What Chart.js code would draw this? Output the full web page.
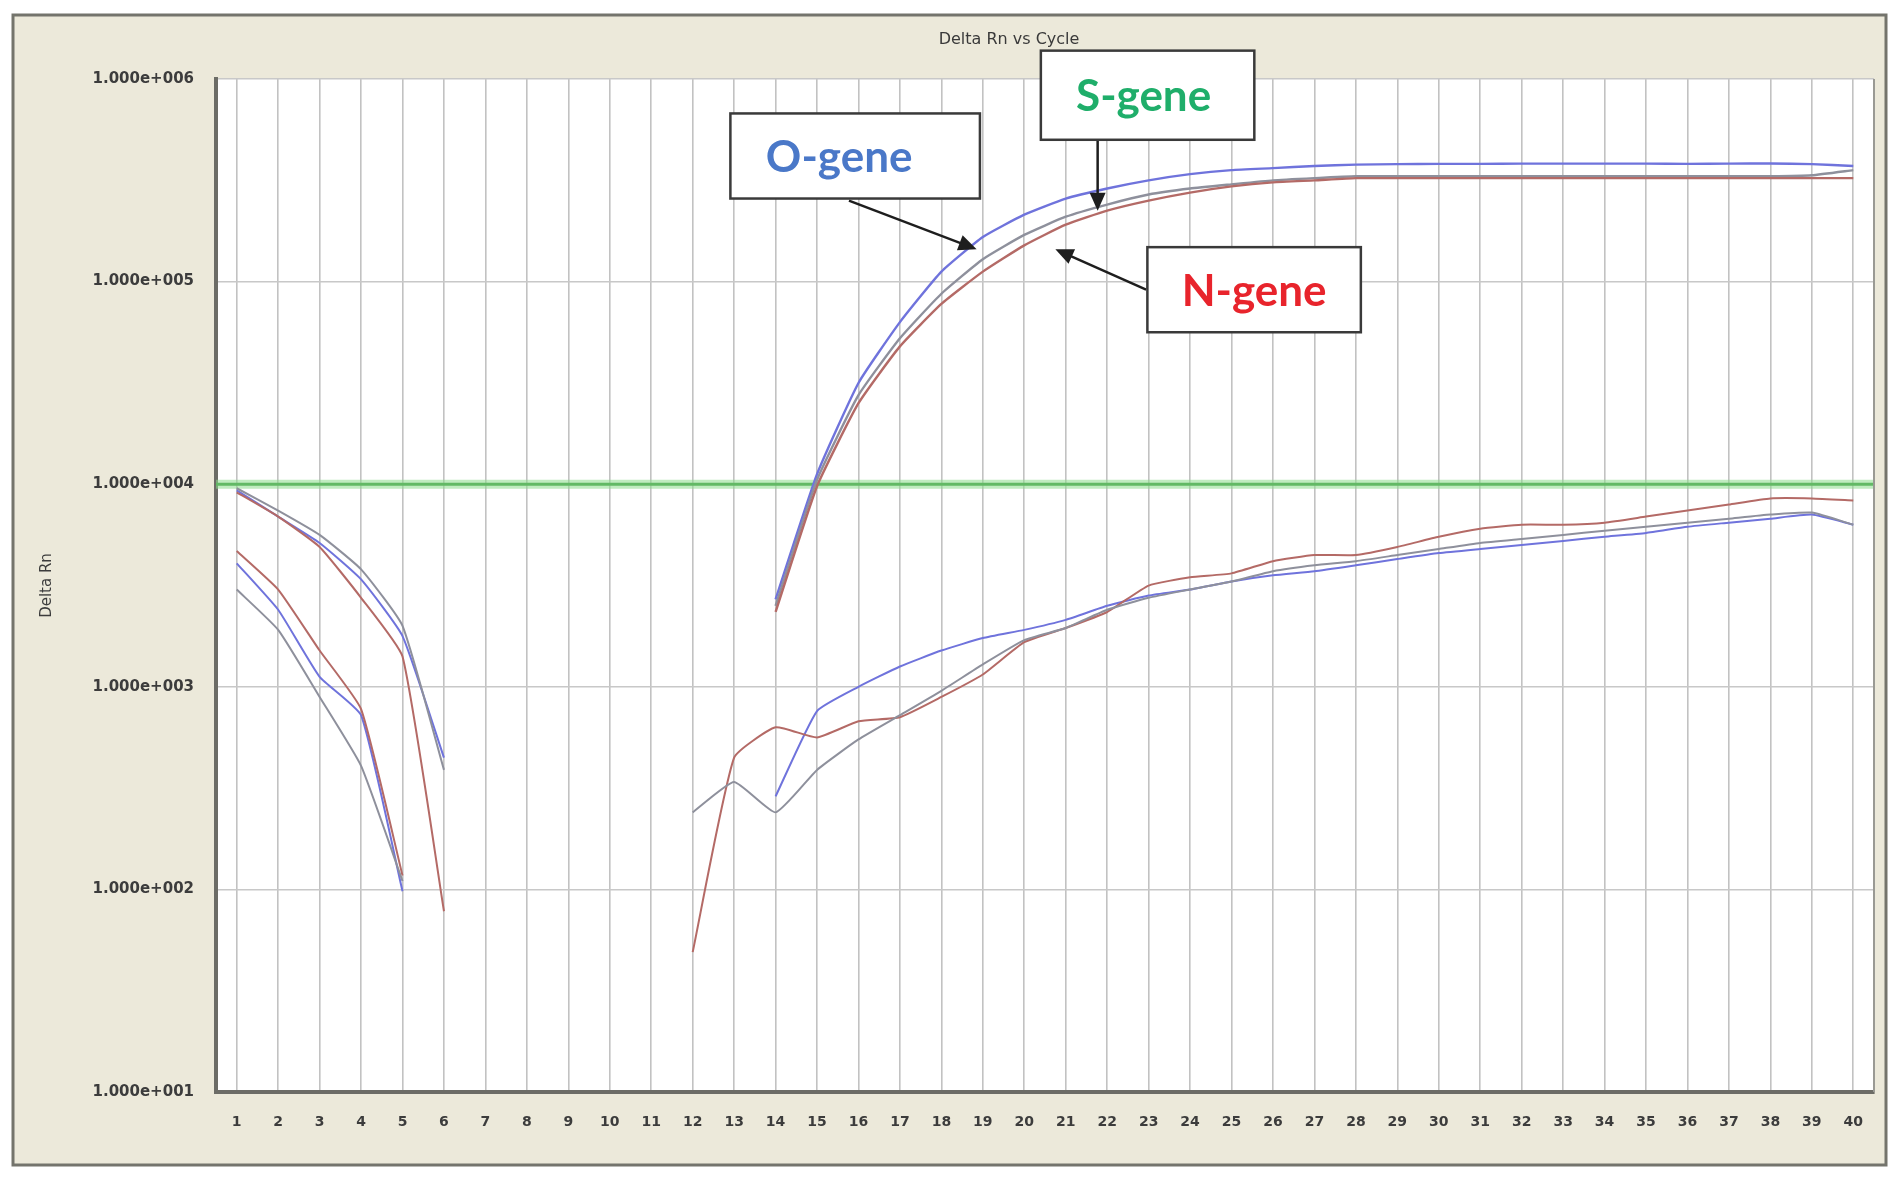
<!DOCTYPE html>
<html>
<head>
<meta charset="utf-8">
<title>Delta Rn vs Cycle</title>
<script src="https://cdn.jsdelivr.net/npm/chart.js@4.4.1/dist/chart.umd.min.js"></script>
<style>
  html, body { margin: 0; padding: 0; background: #fff; }
  #wrap { width: 1902px; height: 1184px; }
</style>
</head>
<body>
<div id="wrap"><canvas id="deltaRnChart" width="1902" height="1184"></canvas></div>
<script>
// x axis: PCR cycles
const cycles = [1, 2, 3, 4, 5, 6, 7, 8, 9, 10, 11, 12, 13, 14, 15, 16, 17, 18, 19, 20,
                21, 22, 23, 24, 25, 26, 27, 28, 29, 30, 31, 32, 33, 34, 35, 36, 37, 38, 39, 40];
// y axis (log) ticks
const yTicks = [10, 100, 1000, 10000, 100000, 1000000];
const threshold = 10000;

// amplification curves, cycles 14..40
const oGene = [2700, 11200, 31600, 63100, 112000, 166000, 214000, 257000, 288000, 316000, 339000, 355000, 363000, 372000,
               378000, 380000, 381000, 381000, 382000, 382000, 382000, 382000, 381000, 382000, 383000, 380000, 372000];
const sGene = [2510, 10500, 27500, 52500, 87100, 129000, 170000, 209000, 240000, 269000, 288000, 302000, 316000, 324000,
               331000, 331000, 331000, 331000, 331000, 331000, 331000, 331000, 331000, 331000, 331000, 335000, 355000];
const nGene = [2340, 9770, 25100, 47900, 77600, 112000, 151000, 191000, 224000, 251000, 275000, 295000, 309000, 316000,
               324000, 324000, 324000, 324000, 324000, 324000, 324000, 324000, 324000, 324000, 324000, 324000, 324000];

// early traces, starting at cycle 1
const earlyGray = [9550, 7410, 5620, 3800, 2000, 389];
const earlyBlue = [9330, 6920, 5130, 3390, 1780, 447];
const earlyRed = [9120, 6920, 4900, 2750, 1410, 78];
const lowRed = [4680, 3020, 1510, 776, 117];
const lowBlue = [4070, 2400, 1120, 724, 98];
const lowGray = [3020, 1910, 891, 407, 110];

// late background traces
const lateRed = [49, 447, 631, 562, 676, 708, 891, 1150, 1660, 1950, 2340, 3160, 3470, 3630, 4170,
                 4470, 4470, 4900, 5500, 6030, 6310, 6310, 6460, 6920, 7410, 7940, 8510, 8510, 8320];   // from 12
const lateGray = [240, 339, 240, 389, 550, 724, 955, 1290, 1700, 1950, 2400, 2750, 3020, 3310, 3720,
                  3980, 4170, 4470, 4790, 5130, 5370, 5620, 5890, 6170, 6460, 6760, 7080, 7240, 6310]; // from 12
const lateBlue = [288, 759, 1000, 1260, 1510, 1740, 1910, 2140, 2510, 2820, 3020, 3310, 3550, 3720,
                  3980, 4270, 4570, 4790, 5010, 5250, 5500, 5750, 6170, 6460, 6760, 7080, 6310];        // from 14

const BLUE = '#6f73dc';
const RED = '#b46a66';
const GRAY = '#8e909c';

function pts(values, startCycle) {
    return values.map((v, i) => ({ x: cycles[startCycle - 1 + i], y: v }));
}

function line(values, startCycle, color, width) {
    return {
        data: pts(values, startCycle),
        borderColor: color,
        borderWidth: width || 2,
        pointRadius: 0,
        tension: 0.15,
        fill: false
    };
}

function fmtExp(v) {
    const e = Math.round(Math.log10(v));
    return '1.000e+' + String(e).padStart(3, '0');
}

// callouts: box [x0, log y0, x1, log y1], arrow [x from, log y from, x to, log y to], dx = text nudge
const callouts = [
    { text: 'O-gene', color: '#4a78c8', dx: -16, box: [12.91, 5.83, 18.93, 5.41], arrow: [15.77, 5.40, 18.85, 5.16] },
    { text: 'S-gene', color: '#1fae6a', dx: -4, box: [20.40, 6.14, 25.55, 5.70], arrow: [21.77, 5.70, 21.77, 5.35] },
    { text: 'N-gene', color: '#e8242c', dx: 0, box: [22.97, 5.17, 28.12, 4.75], arrow: [22.94, 4.96, 20.75, 5.16] }
];

const framePlugin = {
    id: 'frame',
    beforeDraw(chart) {
        const ctx = chart.ctx;
        const a = chart.chartArea;
        ctx.save();
        ctx.fillStyle = '#ffffff';
        ctx.fillRect(0, 0, chart.width, chart.height);
        ctx.fillStyle = '#ece9da';
        ctx.fillRect(13, 15, 1873, 1150);
        ctx.strokeStyle = '#74746c';
        ctx.lineWidth = 3;
        ctx.strokeRect(13, 15, 1873, 1150);
        ctx.fillStyle = '#ffffff';
        ctx.fillRect(a.left, a.top, a.right - a.left, a.bottom - a.top);
        ctx.restore();
    },
    afterDraw(chart) {
        const ctx = chart.ctx;
        const a = chart.chartArea;
        const xs = chart.scales.x, ys = chart.scales.y;
        ctx.save();
        // right edge of plot
        ctx.strokeStyle = '#9a9a94';
        ctx.lineWidth = 2;
        ctx.beginPath();
        ctx.moveTo(a.right, a.top);
        ctx.lineTo(a.right, a.bottom);
        ctx.stroke();

        // title
        ctx.fillStyle = '#3a3a3a';
        ctx.font = '16px "DejaVu Sans"';
        ctx.textAlign = 'center';
        ctx.textBaseline = 'middle';
        ctx.fillText('Delta Rn vs Cycle', 1009, 40);

        const px = v => xs.getPixelForValue(v);
        const py = l => ys.getPixelForValue(Math.pow(10, l));

        callouts.forEach(c => {
            const x0 = px(c.box[0]), y0 = py(c.box[1]), x1 = px(c.box[2]), y1 = py(c.box[3]);
            // arrow
            const ax = px(c.arrow[0]), ay = py(c.arrow[1]), bx = px(c.arrow[2]), by = py(c.arrow[3]);
            const ang = Math.atan2(by - ay, bx - ax);
            const head = 18, half = 8;
            ctx.strokeStyle = '#1e1e1e';
            ctx.fillStyle = '#1e1e1e';
            ctx.lineWidth = 2.5;
            ctx.beginPath();
            ctx.moveTo(ax, ay);
            ctx.lineTo(bx - Math.cos(ang) * head * 0.8, by - Math.sin(ang) * head * 0.8);
            ctx.stroke();
            ctx.beginPath();
            ctx.moveTo(bx, by);
            ctx.lineTo(bx - Math.cos(ang) * head - Math.sin(ang) * half, by - Math.sin(ang) * head + Math.cos(ang) * half);
            ctx.lineTo(bx - Math.cos(ang) * head + Math.sin(ang) * half, by - Math.sin(ang) * head - Math.cos(ang) * half);
            ctx.closePath();
            ctx.fill();
            // box
            ctx.fillStyle = '#ffffff';
            ctx.fillRect(x0, y0, x1 - x0, y1 - y0);
            ctx.strokeStyle = '#3a3a3a';
            ctx.lineWidth = 2.5;
            ctx.strokeRect(x0, y0, x1 - x0, y1 - y0);
            ctx.fillStyle = c.color;
            ctx.font = 'bold 44px Lato';
            ctx.textAlign = 'center';
            ctx.textBaseline = 'middle';
            ctx.fillText(c.text, (x0 + x1) / 2 + c.dx, (y0 + y1) / 2 + 2);
        });
        ctx.restore();
    }
};

document.addEventListener('DOMContentLoaded', function() {
    const ctx = document.getElementById('deltaRnChart');
    new Chart(ctx, {
        type: 'line',
        data: {
            datasets: [
                line(lowGray, 1, GRAY),
                line(lowRed, 1, RED),
                line(lowBlue, 1, BLUE),
                line(earlyGray, 1, GRAY),
                line(earlyRed, 1, RED),
                line(earlyBlue, 1, BLUE),
                line(lateGray, 12, GRAY),
                line(lateRed, 12, RED),
                line(lateBlue, 14, BLUE),
                line(nGene, 14, RED, 2.4),
                line(sGene, 14, GRAY, 2.4),
                line(oGene, 14, BLUE, 2.4),
                {
                    data: [{ x: 0.5, y: threshold }, { x: 40.5, y: threshold }],
                    borderColor: 'rgba(140, 220, 140, 0.55)',
                    borderWidth: 9,
                    pointRadius: 0
                },
                {
                    data: [{ x: 0.5, y: threshold }, { x: 40.5, y: threshold }],
                    borderColor: '#2f8f35',
                    borderWidth: 3,
                    pointRadius: 0
                }
            ]
        },
        options: {
            responsive: false,
            animation: false,
            layout: { padding: { left: 0, top: 79, right: 28, bottom: 0 } },
            plugins: {
                legend: { display: false },
                tooltip: { enabled: false },
                title: { display: false }
            },
            scales: {
                x: {
                    type: 'linear',
                    min: 0.5,
                    max: 40.5,
                    afterBuildTicks: function(scale) {
                        scale.ticks = cycles.map(v => ({ value: v }));
                    },
                    afterFit: function(scale) { scale.height = 92; },
                    grid: { color: '#c2c2c2', lineWidth: 1.6, drawTicks: false },
                    border: { color: '#6c6c66', width: 4 },
                    ticks: {
                        padding: 22,
                        color: '#3c3c3c',
                        font: { family: 'DejaVu Sans', size: 14, weight: 'bold' },
                        autoSkip: false,
                        maxRotation: 0
                    }
                },
                y: {
                    type: 'logarithmic',
                    min: 10,
                    max: 1000000,
                    afterBuildTicks: function(scale) {
                        scale.ticks = yTicks.map(v => ({ value: v }));
                    },
                    afterFit: function(scale) { scale.width = 216; },
                    grid: { color: '#c8c8c8', lineWidth: 1.6, drawTicks: false },
                    border: { color: '#6c6c66', width: 4 },
                    ticks: {
                        padding: 22,
                        color: '#3c3c3c',
                        font: { family: 'DejaVu Sans', size: 15, weight: 'bold' },
                        callback: function(value) { return fmtExp(value); }
                    },
                    title: {
                        display: true,
                        text: 'Delta Rn',
                        color: '#3c3c3c',
                        font: { family: 'DejaVu Sans', size: 15 },
                        padding: { top: 38 }
                    }
                }
            }
        },
        plugins: [framePlugin]
    });
});
</script>
</body>
</html>
